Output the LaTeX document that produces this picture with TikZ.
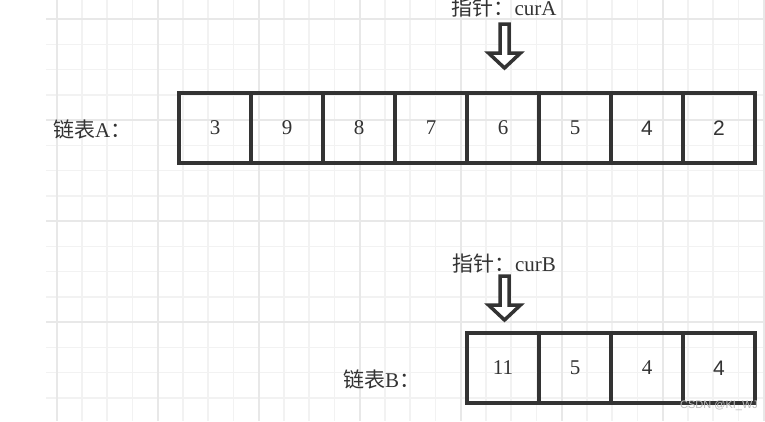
\documentclass[tikz,border=0pt]{standalone}
\usepackage{fontspec}
\setmainfont{Liberation Serif}
\newfontfamily\cjk{Noto Sans CJK SC}
\newfontfamily\sansf{Liberation Sans}
\definecolor{gridminor}{HTML}{F2F2F2}
\definecolor{gridmajor}{HTML}{E8E8E8}
\definecolor{ink}{HTML}{333333}
\definecolor{wmark}{HTML}{BBBBBB}
\begin{document}
\begin{tikzpicture}[x=1pt,y=-1pt,
  cell/.style={draw=ink, line width=3.5pt, minimum width=72pt, minimum height=70pt,
    inner sep=0pt, outer sep=0pt, anchor=north west, font=\fontsize{21}{25}\selectfont, text=ink},
  sanscell/.style={cell, font=\sansf\fontsize{21}{25}\selectfont},
  lbl/.style={font=\fontsize{21}{25}\selectfont, text=ink, inner sep=0pt},
  ptr/.style={draw=ink, line width=3.5pt, fill=white, line join=miter},
  downarrow/.pic={\draw[ptr] (-4.5,0) -- (4.5,0) -- (4.5,29) -- (16,29) -- (0,44) -- (-16,29) -- (-4.5,29) -- cycle;}]
\useasboundingbox (0,0) rectangle (765,421);
\fill[white] (0,0) rectangle (765,421);
% grid
\foreach \i in {0,...,28} \draw[gridminor, line width=1.5pt] ({56.7+25.25*\i},0) -- ({56.7+25.25*\i},421);
\foreach \j in {0,...,15} \draw[gridminor, line width=1.5pt] (46,{19+25.25*\j}) -- (765,{19+25.25*\j});
\foreach \i in {0,4,...,28} \draw[gridmajor, line width=2pt] ({56.7+25.25*\i},0) -- ({56.7+25.25*\i},421);
\foreach \j in {0,4,...,12} \draw[gridmajor, line width=2pt] (46,{19+25.25*\j}) -- (765,{19+25.25*\j});
% list A
\node[lbl, anchor=west] (labA) at (53,129) {{\cjk 链表}A{\cjk ：}};
\node[cell] (a1) at (179,93) {3};
\node[cell] (a2) at (251,93) {9};
\node[cell] (a3) at (323,93) {8};
\node[cell] (a4) at (395,93) {7};
\node[cell] (a5) at (467,93) {6};
\node[cell] (a6) at (539,93) {5};
\node[sanscell] (a7) at (611,93) {4};
\node[sanscell] (a8) at (683,93) {2};
% pointer A
\node[lbl] (ptrA) at (504,8) {{\cjk 指针：}curA};
\pic at (504.5,24) {downarrow};
% list B
\node[lbl, anchor=west] (labB) at (343,379) {{\cjk 链表}B{\cjk ：}};
\node[cell] (b1) at (467,333) {11};
\node[cell] (b2) at (539,333) {5};
\node[cell] (b3) at (611,333) {4};
\node[sanscell] (b4) at (683,333) {4};
% pointer B
\node[lbl] (ptrB) at (504,264) {{\cjk 指针：}curB};
\pic at (504.5,276) {downarrow};
% watermark
\node[font=\sansf\fontsize{11}{12}\selectfont, text=wmark, anchor=west, inner sep=0pt] (wm) at (680,406) {CSDN @KI\_WJ};
\end{tikzpicture}
\end{document}
